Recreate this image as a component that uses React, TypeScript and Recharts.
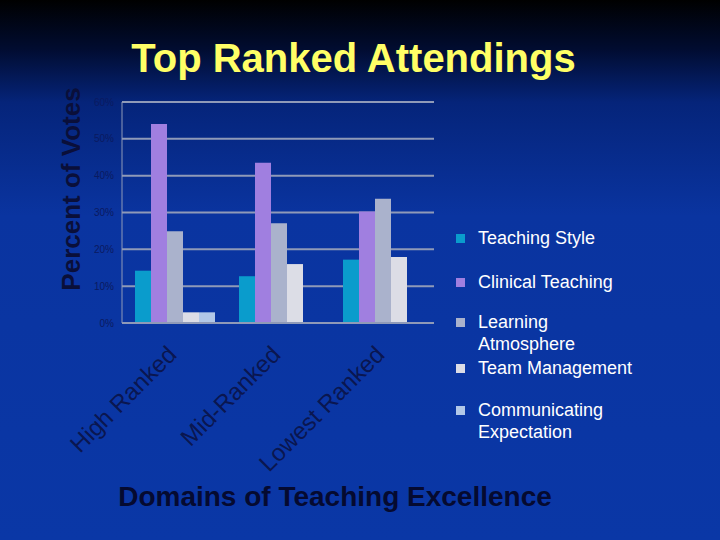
import React from "react";
import { BarChart, Bar, XAxis, YAxis, CartesianGrid } from "recharts";

const categories = ["High Ranked", "Mid-Ranked", "Lowest Ranked"];
const teachingStyle = [14.2, 12.7, 17.2];
const clinicalTeaching = [54.0, 43.5, 30.3];
const learningAtmosphere = [24.9, 27.1, 33.7];
const teamManagement = [2.9, 16.0, 17.9];
const communicatingExpectation = [2.9, 0, 0];
const yTicks = [0, 10, 20, 30, 40, 50, 60];

const seriesNames = [
  "Teaching Style",
  "Clinical Teaching",
  "Learning Atmosphere",
  "Team Management",
  "Communicating Expectation",
];
const seriesColors = ["#0a9ccc", "#a07fe0", "#aab2cc", "#dcdde6", "#b2c8e8"];
const seriesValues = [
  teachingStyle,
  clinicalTeaching,
  learningAtmosphere,
  teamManagement,
  communicatingExpectation,
];
const legendLines: string[][] = [
  ["Teaching Style"],
  ["Clinical Teaching"],
  ["Learning", "Atmosphere"],
  ["Team Management"],
  ["Communicating", "Expectation"],
];
const legendTops = [227, 271, 311, 357, 399];

const data = categories.map((name, i) => {
  const row: Record<string, string | number> = { name };
  seriesNames.forEach((s, k) => {
    row[s] = seriesValues[k][i];
  });
  return row;
});

const FONT = "Arial, 'Liberation Sans', sans-serif";

const CatTick = (props: any) => {
  const { x, y, payload } = props;
  const tx = x + 4;
  const ty = y + 33;
  return (
    <text
      x={tx}
      y={ty}
      transform={`rotate(-45, ${tx}, ${ty})`}
      textAnchor="end"
      fontSize={24}
      fontFamily={FONT}
      fill="#0a1650"
    >
      {payload.value}
    </text>
  );
};

const LegendBox = () => (
  <div style={{ position: "absolute", left: 450, top: 0, width: 270, height: 540 }}>
    {seriesNames.map((s, i) => (
      <div
        key={s}
        style={{
          position: "absolute",
          left: 0,
          top: legendTops[i],
          fontFamily: FONT,
          fontSize: 18,
          color: "#ffffff",
          lineHeight: "22px",
          whiteSpace: "nowrap",
        }}
      >
        <div
          style={{
            position: "absolute",
            left: 6,
            top: 7,
            width: 9,
            height: 9,
            background: seriesColors[i],
          }}
        />
        <div style={{ marginLeft: 28 }}>
          {legendLines[i].map((l) => (
            <div key={l}>{l}</div>
          ))}
        </div>
      </div>
    ))}
  </div>
);

export default function App() {
  return (
    <div
      style={{
        position: "absolute",
        left: 0,
        top: 0,
        width: 720,
        height: 540,
        overflow: "hidden",
        background:
          "linear-gradient(to bottom, #000000 0%, #010c30 9%, #05247a 19%, #0a34a0 40%, #0a37a6 100%)",
      }}
    >
      <div
        style={{
          position: "absolute",
          left: 0,
          width: 707,
          top: 34,
          textAlign: "center",
          fontFamily: FONT,
          fontWeight: "bold",
          fontSize: 40,
          color: "#ffff66",
          lineHeight: "48px",
        }}
      >
        Top Ranked Attendings
      </div>
      <div
        style={{
          position: "absolute",
          left: 0,
          width: 670,
          top: 480,
          textAlign: "center",
          fontFamily: FONT,
          fontWeight: "bold",
          fontSize: 28,
          color: "#050a30",
          lineHeight: "34px",
        }}
      >
        Domains of Teaching Excellence
      </div>
      <div
        style={{
          position: "absolute",
          left: 71 - 120,
          top: 189 - 16,
          width: 240,
          height: 32,
          transform: "rotate(-90deg)",
          textAlign: "center",
          fontFamily: FONT,
          fontWeight: "bold",
          fontSize: 26,
          color: "#0a0f3a",
          lineHeight: "32px",
        }}
      >
        Percent of Votes
      </div>
      <div style={{ position: "absolute", left: 0, top: 0 }}>
        <BarChart
          width={720}
          height={540}
          data={data}
          margin={{ top: 102, right: 286, bottom: 117, left: 82 }}
          barGap={0}
          barCategoryGap="12.5%"
        >
          <CartesianGrid vertical={false} stroke="#8f9ab8" strokeWidth={2} />
          <XAxis
            dataKey="name"
            height={100}
            interval={0}
            tickLine={false}
            tickSize={0}
            tickMargin={0}
            axisLine={{ stroke: "#8f9ab8", strokeWidth: 2 }}
            tick={<CatTick />}
          />
          <YAxis
            width={40}
            domain={[0, 60]}
            ticks={yTicks}
            interval={0}
            tickLine={false}
            tickSize={0}
            tickMargin={8}
            axisLine={{ stroke: "#8f9ab8", strokeWidth: 1 }}
            tickFormatter={(v: number) => `${v}%`}
            tick={{ fill: "#0a1a60", fontSize: 10, fontFamily: FONT }}
          />
          {seriesNames.map((s, i) => (
            <Bar key={s} dataKey={s} fill={seriesColors[i]} isAnimationActive={false} />
          ))}
        </BarChart>
      </div>
      <LegendBox />
    </div>
  );
}
